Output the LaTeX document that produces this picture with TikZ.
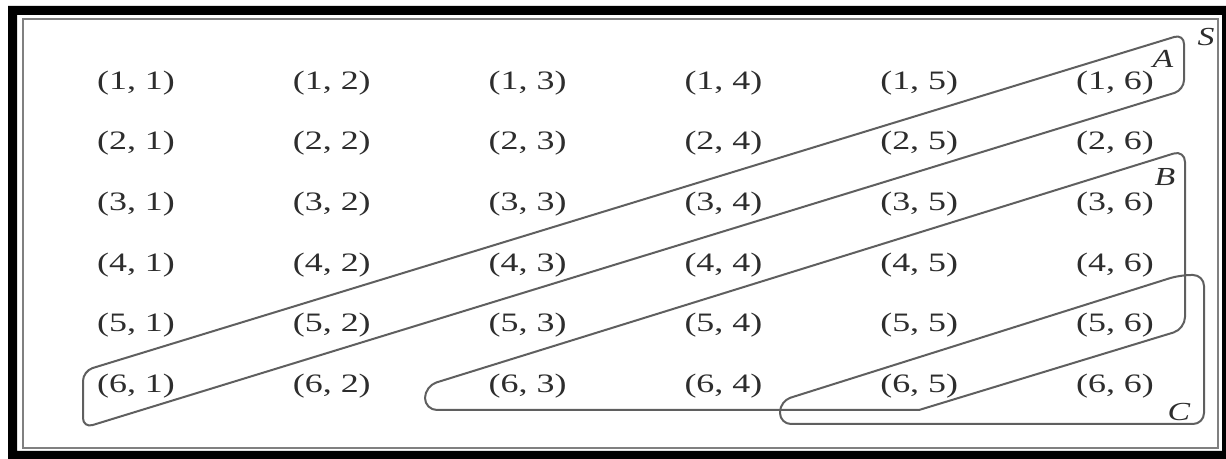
\documentclass[tikz,border=0pt]{standalone}
\usepackage{fontspec}
\setmainfont{Liberation Serif}
\usepackage{graphicx}
\definecolor{outl}{RGB}{95,95,95}
\definecolor{txt}{RGB}{45,45,45}
\begin{document}
\begin{tikzpicture}[x=0.5pt,y=-0.5pt,
  cell/.style={inner sep=0pt,text=txt,font=\fontsize{13.3pt}{15pt}\selectfont},
  setlabel/.style={inner sep=0pt,text=txt,font=\fontsize{13pt}{15pt}\selectfont\itshape},
  region/.style={draw=outl,line width=1pt,line join=round}]
\useasboundingbox (0,0) rectangle (1226,459);
% frame
\fill[black,even odd rule] (8,6) rectangle (1226,459) (17,15) rectangle (1222,451);
\draw[gray,line width=0.9pt] (23,19) rectangle (1218,448);
% cells
\foreach \r in {1,...,6}{
  \foreach \c in {1,...,6}{
    \node[cell] (c\r\c) at ({136+195.8*(\c-1)},{83+60.6*(\r-1)}) {\scalebox{1.35}[1]{(\r, \c)}};
  }
}
% set labels
\node[setlabel] (S) at (1206,37) {\scalebox{1.3}[1]{S}};
\node[setlabel] (A) at (1163,59) {\scalebox{1.3}[1]{A}};
\node[setlabel] (B) at (1165,177) {\scalebox{1.3}[1]{B}};
\node[setlabel] (C) at (1179,412) {\scalebox{1.3}[1]{C}};
% regions
\draw[region,rounded corners=5pt] (83,371) -- (1184,34) -- (1184,90) -- (83,428) -- cycle;
\draw[region,rounded corners=6pt] (425,386) -- (1185,150) -- (1185,329) [sharp corners] -- (919,410) [rounded corners=6pt] -- (425,410) -- cycle;
\draw[region,rounded corners=5.5pt] (780,401) -- (1180,275) -- (1204,275) -- (1204,424) -- (780,424) -- cycle;
\end{tikzpicture}
\end{document}
